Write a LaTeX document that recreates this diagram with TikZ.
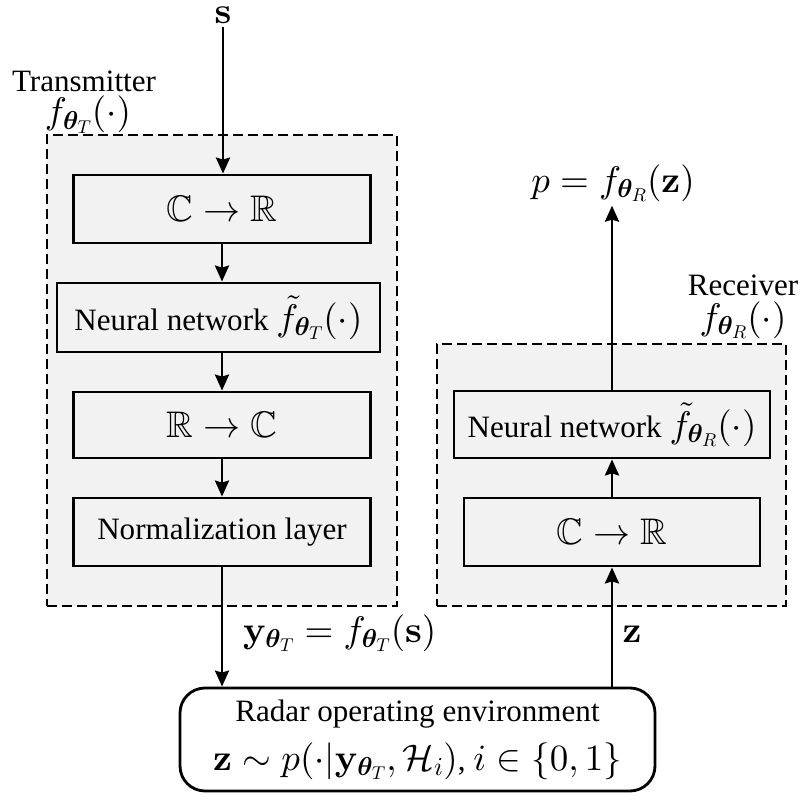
\documentclass[tikz,border=0pt]{standalone}
\usepackage{amsmath,amssymb,bm}
\usepackage[no-math]{fontspec}
\setmainfont{Liberation Serif}[Scale=0.84]
\usetikzlibrary{arrows.meta}
% Computer Modern math and blackboard bold, freely scalable
\DeclareFontShape{OT1}{cmr}{m}{n}{<-8> cmr7 <8-> cmr10}{}
\DeclareFontShape{OT1}{cmr}{bx}{n}{<-8> cmbx7 <8-> cmbx10}{}
\DeclareFontShape{OML}{cmm}{m}{it}{<-8> cmmi7 <8-> cmmi10}{}
\DeclareFontShape{OML}{cmm}{b}{it}{<-8> cmmib7 <8-> cmmib10}{}
\DeclareFontShape{OMS}{cmsy}{m}{n}{<-8> cmsy7 <8-> cmsy10}{}
\DeclareFontShape{OMS}{cmsy}{b}{n}{<-8> cmbsy7 <8-> cmbsy10}{}
\DeclareFontShape{OMX}{cmex}{m}{n}{<-> cmex10}{}
\DeclareFontFamily{U}{msb}{}
\DeclareFontShape{U}{msb}{m}{n}{<-8> msbm7 <8-> msbm10}{}
\definecolor{panelgray}{RGB}{242,242,242}

\begin{document}
\begin{tikzpicture}[x=1pt,y=-1pt,
  every node/.style={font=\fontsize{37}{44}\selectfont},
  blk/.style={draw,line width=2.8pt,fill=panelgray,inner sep=0pt,minimum height=68pt},
  grp/.style={draw,line width=2.3pt,dash pattern=on 10pt off 5pt,fill=panelgray,inner sep=0pt},
  flow/.style={-{Stealth[length=16pt,width=14pt,inset=2pt]},line width=2.8pt}]
\useasboundingbox (0,0) rectangle (801,800);

% group frames
\node[grp,minimum width=350pt,minimum height=471pt] (tx) at (222,370.5) {};
\node[grp,minimum width=349pt,minimum height=262pt] (rx) at (611.5,475) {};

\node[anchor=base] (txname) at (84,92) {Transmitter};
\node[anchor=base] (txfun) at (88,124) {$f_{\bm{\theta}_T}(\cdot)$};
\node[anchor=base] (rxname) at (743,295) {Receiver};
\node[anchor=base] (rxfun) at (743,329) {$f_{\bm{\theta}_R}(\cdot)$};

% transmitter chain
\node[anchor=base] (s) at (223,24) {$\mathbf{s}$};
\node[blk,minimum width=297pt] (c1) at (222,209) {$\mathbb{C}\rightarrow\mathbb{R}$};
\node[blk,minimum width=323pt,minimum height=69pt] (nn1) at (218.5,317.5) {Neural network $\tilde{f}_{\bm{\theta}_T}(\cdot)$};
\node[blk,minimum width=297pt,minimum height=66pt] (r2c) at (222,425) {$\mathbb{R}\rightarrow\mathbb{C}$};
\node[blk,minimum width=297pt] (norm) at (222,532) {Normalization layer};

% receiver chain
\node[blk,minimum width=316pt,minimum height=67pt] (nn2) at (612,424.5) {Neural network $\tilde{f}_{\bm{\theta}_R}(\cdot)$};
\node[blk,minimum width=296pt] (c2) at (612,532) {$\mathbb{C}\rightarrow\mathbb{R}$};
\node[anchor=base,inner sep=4pt] (p) at (613,192) {$p=f_{\bm{\theta}_R}(\mathbf{z})$};

% environment
\node[draw,line width=2.8pt,rounded corners=25pt,minimum width=475pt,minimum height=103pt,
      inner sep=0pt,align=center] (env) at (417.5,739.5)
  {Radar operating environment\\[5pt] $\mathbf{z}\sim p(\cdot|\mathbf{y}_{\bm{\theta}_T},\mathcal{H}_i)$, $i\in\{0,1\}$};

\node[anchor=base west] (ylab) at (240,642) {$\mathbf{y}_{\bm{\theta}_T}=f_{\bm{\theta}_T}(\mathbf{s})$};
\node[anchor=base] (zlab) at (632,642) {$\mathbf{z}$};

% connectors
\draw[flow] (s.south) -- (s.south |- c1.north);
\draw[flow] (c1.south) -- (c1.south |- nn1.north);
\draw[flow] (c1.south |- nn1.south) -- (r2c.north);
\draw[flow] (r2c.south) -- (norm.north);
\draw[flow] (norm.south) -- (norm.south |- env.north);
\draw[flow] (c2.south |- env.north) -- (c2.south);
\draw[flow] (c2.north) -- (c2.north |- nn2.south);
\draw[flow] (nn2.north) -- (p.south -| nn2.north);
\end{tikzpicture}
\end{document}
